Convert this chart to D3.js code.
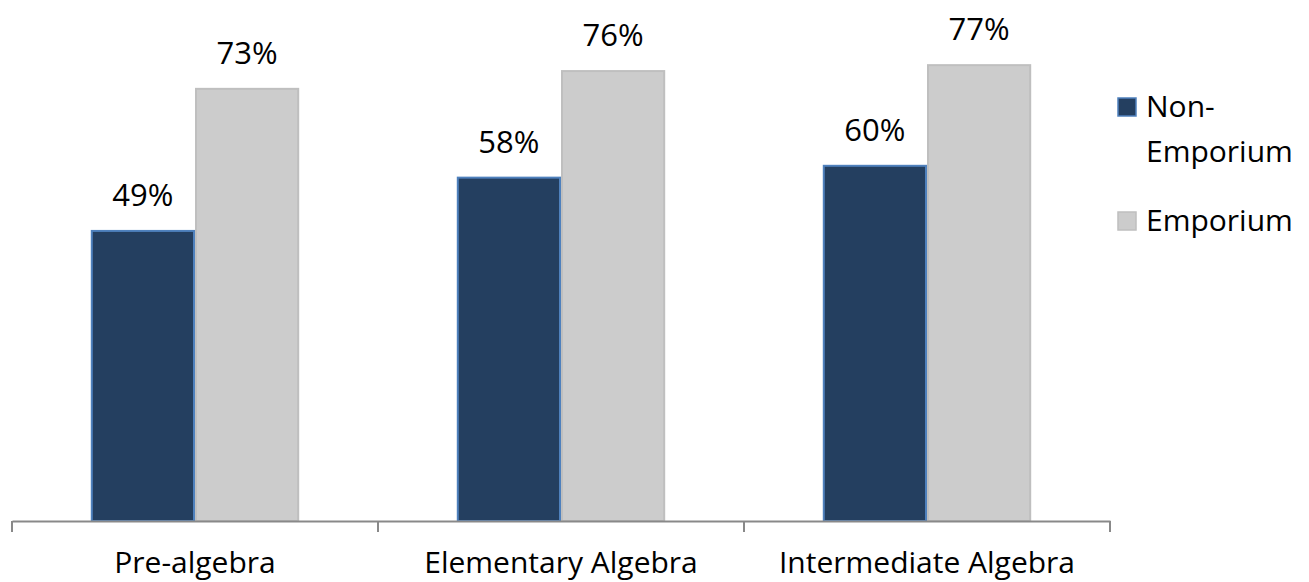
<!DOCTYPE html>
<html><head><meta charset="utf-8">
<script src="https://cdn.jsdelivr.net/npm/d3@7"></script>
<style>body{margin:0;background:#fff}svg{display:block}text{font-family:"Open Sans","Noto Sans",sans-serif;fill:#000}</style>
</head><body><svg id="c" width="1309" height="582"></svg>
<script>
const categories = ["Pre-algebra", "Elementary Algebra", "Intermediate Algebra"];
const seriesNames = ["Non-Emporium", "Emporium"];
const nonEmporium = [0.49, 0.58, 0.60];
const emporium = [0.73, 0.76, 0.77];
const valueLabels = [["49%", "58%", "60%"], ["73%", "76%", "77%"]];

const svg = d3.select("#c");
const baseY = 521, left = 12, right = 1110;
const x = d3.scaleBand().domain(categories).range([left, right]).paddingInner(0).paddingOuter(0);
const inner = d3.scaleBand().domain(seriesNames).range([0, x.bandwidth()]).paddingOuter(0.756).paddingInner(0);
const y = d3.scaleLinear().domain([0, 1]).range([baseY, baseY - 592]);
const fills = ["#243F60", "#CCCCCC"];
const strokes = ["#4F81BD", "#BFBFBF"];
const data = [nonEmporium, emporium];

data.forEach((vals, si) => {
  const g = svg.append("g");
  g.selectAll("rect").data(vals).join("rect")
    .attr("x", (d, i) => x(categories[i]) + inner(seriesNames[si]) + 1)
    .attr("y", d => y(d))
    .attr("width", inner.bandwidth() - 2)
    .attr("height", d => baseY - y(d))
    .attr("fill", fills[si]).attr("stroke", strokes[si]).attr("stroke-width", 2);
  g.selectAll("text").data(vals).join("text")
    .attr("x", (d, i) => x(categories[i]) + inner(seriesNames[si]) + inner.bandwidth() / 2)
    .attr("y", d => y(d) - 25)
    .attr("text-anchor", "middle").attr("font-size", 31)
    .text((d, i) => valueLabels[si][i]);
});

// axis
const axis = d3.axisBottom(x).tickSize(0).tickPadding(52).tickSizeOuter(0);
const ag = svg.append("g").attr("transform", `translate(0,${baseY})`).call(axis);
ag.select(".domain").attr("stroke", "#898989").attr("stroke-width", 2);
ag.selectAll("text").attr("font-size", 30).attr("font-family", '"Open Sans","Noto Sans",sans-serif').attr("fill", "#000").attr("dy", "0");
const bounds = categories.map(c => x(c)).concat([right]);
ag.selectAll("line.sep").data(bounds).join("line").attr("class", "sep")
  .attr("x1", d => d).attr("x2", d => d).attr("y1", 0).attr("y2", 11)
  .attr("stroke", "#898989").attr("stroke-width", 2);

// legend
const lg = svg.append("g");
lg.append("rect").attr("x", 1118).attr("y", 98).attr("width", 18).attr("height", 18)
  .attr("fill", fills[0]).attr("stroke", strokes[0]).attr("stroke-width", 1.5);
const t1 = lg.append("text").attr("x", 1146).attr("y", 117).attr("font-size", 30);
t1.append("tspan").attr("x", 1146).text("Non-");
t1.append("tspan").attr("x", 1146).attr("dy", 45).text("Emporium");
lg.append("rect").attr("x", 1118).attr("y", 212).attr("width", 18).attr("height", 18)
  .attr("fill", fills[1]).attr("stroke", strokes[1]).attr("stroke-width", 1.5);
lg.append("text").attr("x", 1146).attr("y", 231).attr("font-size", 30).text(seriesNames[1]);
</script></body></html>
